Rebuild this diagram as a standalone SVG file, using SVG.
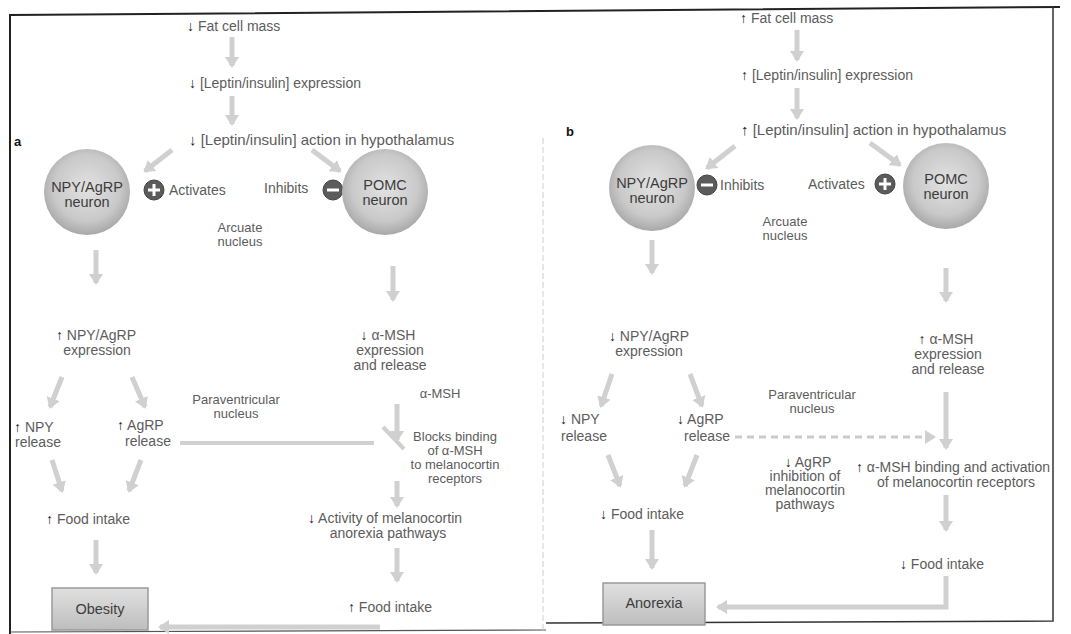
<svg xmlns="http://www.w3.org/2000/svg" width="1071" height="634" viewBox="0 0 1071 634">
<style>
.t{font-family:"Liberation Sans",Arial,sans-serif;font-size:14px;fill:#5c5c5c;}
.s{font-size:13px;}
.b{font-size:15px;}
.c{text-anchor:middle;}
.ud{fill:#222;font-weight:bold;}
.lbl{font-family:"Liberation Sans",Arial,sans-serif;font-size:13px;font-weight:bold;fill:#111;}
.nt{font-family:"Liberation Sans",Arial,sans-serif;font-size:14.5px;fill:#3c3c3c;text-anchor:middle;}
.ar{stroke:#d0d0d0;stroke-width:5;fill:none;marker-end:url(#ah);}
.ln{stroke:#d0d0d0;stroke-width:4;fill:none;}
.da{stroke:#cbcbcb;stroke-width:3;stroke-dasharray:7 5;fill:none;marker-end:url(#ah);}
.sign{fill:#5b5b5b;stroke:#444;stroke-width:1;}
.sym{stroke:#fff;stroke-width:3;}
</style>
<defs>
<radialGradient id="cg" cx="50%" cy="45%" r="55%">
<stop offset="0" stop-color="#e2e2e2"/>
<stop offset="0.7" stop-color="#c9c9c9"/>
<stop offset="1" stop-color="#a8a8a8"/>
</radialGradient>
<linearGradient id="bg" x1="0" y1="0" x2="0" y2="1">
<stop offset="0" stop-color="#e0e0e0"/>
<stop offset="0.5" stop-color="#cfcfcf"/>
<stop offset="1" stop-color="#bdbdbd"/>
</linearGradient>
<marker id="ah" markerUnits="userSpaceOnUse" markerWidth="14" markerHeight="14" refX="9" refY="7" orient="auto">
<path d="M0,0 L11,7 L0,14 Z" fill="#d0d0d0"/>
</marker>
</defs>
<rect width="1071" height="634" fill="#fff"/>
<g id="frame" fill="none">
<path d="M10,634 L10,15 L1060,7" stroke="#222" stroke-width="2"/>
<path d="M1053,7 L1053,621 L546,623" stroke="#333" stroke-width="1.5"/>
<path d="M10,632 L546,630" stroke="#555" stroke-width="1.2"/>
<line x1="543" y1="138" x2="543" y2="632" stroke="#ccc" stroke-width="1" stroke-dasharray="6 3"/>
</g>
<g id="connectors">
<line class="ar" x1="232" y1="37" x2="232" y2="66"/>
<line class="ar" x1="232" y1="96" x2="232" y2="124"/>
<line class="ar" x1="172" y1="150" x2="145" y2="171"/>
<line class="ar" x1="312" y1="150" x2="340" y2="171"/>
<line class="ar" x1="96" y1="250" x2="96" y2="283"/>
<line class="ar" x1="393" y1="266" x2="393" y2="300"/>
<line class="ar" x1="62" y1="377" x2="50" y2="407"/>
<line class="ar" x1="132" y1="377" x2="145" y2="407"/>
<line class="ln" x1="180" y1="443" x2="374" y2="443"/>
<line class="ln" x1="383" y1="427" x2="404" y2="449"/>
<line class="ar" x1="397" y1="404" x2="397" y2="440"/>
<line class="ar" x1="52" y1="460" x2="62" y2="491"/>
<line class="ar" x1="141" y1="460" x2="129" y2="491"/>
<line class="ar" x1="397" y1="481" x2="397" y2="506"/>
<line class="ar" x1="96" y1="540" x2="96" y2="573"/>
<line class="ar" x1="397" y1="548" x2="397" y2="581"/>
<line class="ar" x1="380" y1="627" x2="160" y2="627"/>
<line class="ar" x1="797" y1="30" x2="797" y2="60"/>
<line class="ar" x1="797" y1="88" x2="797" y2="118"/>
<line class="ar" x1="735" y1="146" x2="707" y2="168"/>
<line class="ar" x1="870" y1="143" x2="900" y2="165"/>
<line class="ar" x1="652" y1="240" x2="652" y2="273"/>
<line class="ar" x1="946" y1="268" x2="946" y2="301"/>
<line class="ar" x1="612" y1="374" x2="601" y2="406"/>
<line class="ar" x1="690" y1="374" x2="702" y2="406"/>
<line class="da" x1="735" y1="437" x2="934" y2="437"/>
<line class="ar" x1="946" y1="392" x2="946" y2="448"/>
<line class="ar" x1="608" y1="455" x2="620" y2="486"/>
<line class="ar" x1="697" y1="455" x2="685" y2="486"/>
<line class="ar" x1="652" y1="530" x2="652" y2="568"/>
<line class="ar" x1="946" y1="495" x2="946" y2="530"/>
<path class="ar" d="M946,576 L946,607 L718,607"/>
</g>
<g id="panel-labels">
<text class="lbl" x="14" y="146">a</text>
<text class="lbl" x="566" y="136">b</text>
</g>
<g id="a-fat"><text class="t" x="187" y="31"><tspan class="ud">↓</tspan> Fat cell mass</text></g>
<g id="a-expr"><text class="t" x="189" y="88"><tspan class="ud">↓</tspan> [Leptin/insulin] expression</text></g>
<g id="a-action"><text class="t b" x="189" y="145"><tspan class="ud">↓</tspan> [Leptin/insulin] action in hypothalamus</text></g>
<g id="a-npy-neuron">
<circle cx="87" cy="192" r="43" fill="url(#cg)"/>
<text class="nt" x="87" y="192">NPY/AgRP</text>
<text class="nt" x="87" y="207">neuron</text>
</g>
<g id="a-activates">
<circle class="sign" cx="154" cy="190" r="10"/>
<line class="sym" x1="148" y1="190" x2="160" y2="190"/>
<line class="sym" x1="154" y1="184" x2="154" y2="196"/>
<text class="t" x="169" y="195">Activates</text>
</g>
<g id="a-inhibits">
<text class="t" x="264" y="193">Inhibits</text>
<circle class="sign" cx="333" cy="190" r="10"/>
<line class="sym" x1="327" y1="190" x2="339" y2="190"/>
</g>
<g id="a-pomc-neuron">
<circle cx="385" cy="192" r="43" fill="url(#cg)"/>
<text class="nt" x="385" y="190">POMC</text>
<text class="nt" x="385" y="205">neuron</text>
</g>
<g id="a-arcuate"><text class="t s c" x="240" y="232">Arcuate</text><text class="t s c" x="240" y="246">nucleus</text></g>
<g id="a-npyexp"><text class="t c" x="96" y="340"><tspan class="ud">↑</tspan> NPY/AgRP</text><text class="t c" x="97" y="355">expression</text></g>
<g id="a-msh"><text class="t c" x="388" y="340"><tspan class="ud">↓</tspan> α-MSH</text><text class="t c" x="390" y="355">expression</text><text class="t c" x="390" y="370">and release</text></g>
<g id="a-msh2"><text class="t s c" x="440" y="398">α-MSH</text></g>
<g id="a-pvn"><text class="t s c" x="236" y="404">Paraventricular</text><text class="t s c" x="236" y="418">nucleus</text></g>
<g id="a-npyrel"><text class="t" x="14" y="432"><tspan class="ud">↑</tspan> NPY</text><text class="t" x="15" y="447">release</text></g>
<g id="a-agrprel"><text class="t" x="117" y="430"><tspan class="ud">↑</tspan> AgRP</text><text class="t" x="125" y="446">release</text></g>
<g id="a-blocks"><text class="t s c" x="455" y="441">Blocks binding</text><text class="t s c" x="455" y="455">of α-MSH</text><text class="t s c" x="455" y="469">to melanocortin</text><text class="t s c" x="455" y="483">receptors</text></g>
<g id="a-food"><text class="t" x="46" y="524"><tspan class="ud">↑</tspan> Food intake</text></g>
<g id="a-activity"><text class="t c" x="385" y="523"><tspan class="ud">↓</tspan> Activity of melanocortin</text><text class="t c" x="388" y="538">anorexia pathways</text></g>
<g id="a-food2"><text class="t c" x="390" y="612"><tspan class="ud">↑</tspan> Food intake</text></g>
<g id="a-obesity">
<rect x="52" y="588" width="96" height="42" fill="url(#bg)" stroke="#9a9a9a" stroke-width="1.5"/>
<text class="nt" x="100" y="614">Obesity</text>
</g>
<g id="b-fat"><text class="t" x="740" y="23"><tspan class="ud">↑</tspan> Fat cell mass</text></g>
<g id="b-expr"><text class="t" x="741" y="80"><tspan class="ud">↑</tspan> [Leptin/insulin] expression</text></g>
<g id="b-action"><text class="t b" x="741" y="135"><tspan class="ud">↑</tspan> [Leptin/insulin] action in hypothalamus</text></g>
<g id="b-npy-neuron">
<circle cx="652" cy="188" r="43" fill="url(#cg)"/>
<text class="nt" x="652" y="188">NPY/AgRP</text>
<text class="nt" x="652" y="203">neuron</text>
</g>
<g id="b-inhibits">
<circle class="sign" cx="707" cy="185" r="10"/>
<line class="sym" x1="701" y1="185" x2="713" y2="185"/>
<text class="t" x="720" y="190">Inhibits</text>
</g>
<g id="b-activates">
<text class="t" x="808" y="189">Activates</text>
<circle class="sign" cx="885" cy="184" r="10"/>
<line class="sym" x1="879" y1="184" x2="891" y2="184"/>
<line class="sym" x1="885" y1="178" x2="885" y2="190"/>
</g>
<g id="b-pomc-neuron">
<circle cx="946" cy="186" r="43" fill="url(#cg)"/>
<text class="nt" x="946" y="184">POMC</text>
<text class="nt" x="946" y="199">neuron</text>
</g>
<g id="b-arcuate"><text class="t s c" x="785" y="226">Arcuate</text><text class="t s c" x="785" y="240">nucleus</text></g>
<g id="b-npyexp"><text class="t c" x="649" y="341"><tspan class="ud">↓</tspan> NPY/AgRP</text><text class="t c" x="649" y="356">expression</text></g>
<g id="b-msh"><text class="t c" x="946" y="344"><tspan class="ud">↑</tspan> α-MSH</text><text class="t c" x="948" y="359">expression</text><text class="t c" x="948" y="374">and release</text></g>
<g id="b-pvn"><text class="t s c" x="812" y="399">Paraventricular</text><text class="t s c" x="812" y="413">nucleus</text></g>
<g id="b-npyrel"><text class="t" x="560" y="424"><tspan class="ud">↓</tspan> NPY</text><text class="t" x="561" y="441">release</text></g>
<g id="b-agrprel"><text class="t" x="677" y="424"><tspan class="ud">↓</tspan> AgRP</text><text class="t" x="684" y="441">release</text></g>
<g id="b-agrpinh"><text class="t c" x="808" y="467"><tspan class="ud">↓</tspan> AgRP</text><text class="t c" x="805" y="481">inhibition of</text><text class="t c" x="805" y="495">melanocortin</text><text class="t c" x="805" y="509">pathways</text></g>
<g id="b-mshbind"><text class="t c" x="953" y="472"><tspan class="ud">↑</tspan> α-MSH binding and activation</text><text class="t c" x="956" y="487">of melanocortin receptors</text></g>
<g id="b-food"><text class="t" x="600" y="519"><tspan class="ud">↓</tspan> Food intake</text></g>
<g id="b-food2"><text class="t c" x="942" y="569"><tspan class="ud">↓</tspan> Food intake</text></g>
<g id="b-anorexia">
<rect x="603" y="583" width="102" height="42" fill="url(#bg)" stroke="#9a9a9a" stroke-width="1.5"/>
<text class="nt" x="654" y="608">Anorexia</text>
</g>
</svg>
